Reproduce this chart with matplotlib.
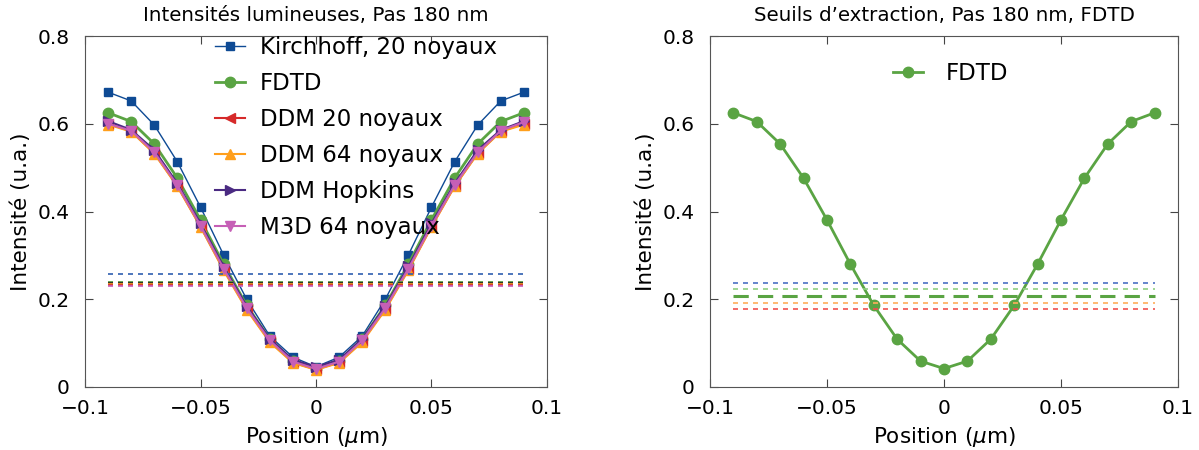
import matplotlib
matplotlib.use("Agg")
import matplotlib.pyplot as plt
import numpy as np

plt.rcParams['font.family'] = ['DejaVu Sans']
plt.rcParams['mathtext.fontset'] = 'dejavusans'

x = [-0.09, -0.08, -0.07, -0.06, -0.05, -0.04, -0.03, -0.02, -0.01, 0.0,
     0.01, 0.02, 0.03, 0.04, 0.05, 0.06, 0.07, 0.08, 0.09]

kirchhoff = [0.672, 0.652, 0.597, 0.513, 0.410, 0.301, 0.200, 0.116, 0.068, 0.046,
             0.068, 0.116, 0.200, 0.301, 0.410, 0.513, 0.597, 0.652, 0.672]
fdtd = [0.625, 0.605, 0.554, 0.476, 0.381, 0.280, 0.186, 0.109, 0.059, 0.042,
        0.059, 0.109, 0.186, 0.280, 0.381, 0.476, 0.554, 0.605, 0.625]
ddm20 = [0.600, 0.583, 0.533, 0.458, 0.366, 0.268, 0.178, 0.104, 0.056, 0.040,
         0.056, 0.104, 0.178, 0.268, 0.366, 0.458, 0.533, 0.583, 0.600]
ddm64 = [0.598, 0.582, 0.532, 0.457, 0.365, 0.266, 0.176, 0.102, 0.055, 0.039,
         0.055, 0.102, 0.176, 0.266, 0.365, 0.457, 0.532, 0.582, 0.598]
hopkins = [0.606, 0.586, 0.540, 0.464, 0.373, 0.275, 0.184, 0.110, 0.062, 0.046,
           0.062, 0.110, 0.184, 0.275, 0.373, 0.464, 0.540, 0.586, 0.606]
m3d = [0.600, 0.584, 0.535, 0.460, 0.368, 0.270, 0.180, 0.106, 0.058, 0.041,
       0.058, 0.106, 0.180, 0.270, 0.368, 0.460, 0.535, 0.584, 0.604]

labels = ["Kirchhoff, 20 noyaux", "FDTD", "DDM 20 noyaux", "DDM 64 noyaux",
          "DDM Hopkins", "M3D 64 noyaux"]
colors = ["#0e4a94", "#5aa443", "#d62a2a", "#ff9f1c", "#4a2a82", "#c65fb6"]
markers = ["s", "o", "<", "^", ">", "v"]
lws = [1.0, 2.0, 1.5, 1.5, 1.5, 1.5]
msizes = [6, 7.5, 6.5, 6.5, 6.5, 6.5]

# thresholds (left panel)
seuils_left = [0.258, 0.240, 0.236, 0.234, 0.232, 0.230]
seuils_left_colors = ["#2f5fb0", "#4f9a3a", "#222222", "#ff9f1c", "#d62a2a", "#c65fb6"]

# thresholds (right panel)
seuils_right = [0.238, 0.223, 0.207, 0.192, 0.178]
seuils_right_colors = ["#4a6fc4", "#8fcf80", "#5aa443", "#ffad5a", "#f05050"]
seuils_right_lw = [1.2, 1.2, 2.2, 1.2, 1.2]

fig = plt.figure(figsize=(11.99, 4.5), dpi=100)
ax1 = fig.add_axes([0.0709, 0.14, 0.3853, 0.78])
ax2 = fig.add_axes([0.5921, 0.14, 0.3904, 0.78])

series = [kirchhoff, fdtd, ddm20, ddm64, hopkins, m3d]
for s, lab, c, m, lw, ms in zip(series, labels, colors, markers, lws, msizes):
    ax1.plot(x, s, color=c, marker=m, lw=lw, ms=ms, label=lab)

for y, c in zip(seuils_left, seuils_left_colors):
    ax1.plot([x[0], x[-1]], [y, y], color=c, lw=1.2, ls=(0, (3, 3)))

ax2.plot(x, fdtd, color=colors[1], marker="o", lw=2.0, ms=7.5, label="FDTD")
for y, c, lw in zip(seuils_right, seuils_right_colors, seuils_right_lw):
    dash = (0, (5, 3)) if lw > 2 else (0, (3, 3))
    ax2.plot([x[0], x[-1]], [y, y], color=c, lw=lw, ls=dash)

ticks_y = [0, 0.2, 0.4, 0.6, 0.8]
ticklab_y = ["0", "0.2", "0.4", "0.6", "0.8"]
ticks_x = [-0.1, -0.05, 0, 0.05, 0.1]
ticklab_x = ["\u22120.1", "\u22120.05", "0", "0.05", "0.1"]

for ax, title in [(ax1, "Intensités lumineuses, Pas 180 nm"),
                  (ax2, "Seuils d\u2019extraction, Pas 180 nm, FDTD")]:
    ax.set_xlim(-0.1, 0.1)
    ax.set_ylim(0, 0.8)
    ax.set_xticks(ticks_x)
    ax.set_xticklabels(ticklab_x)
    ax.set_yticks(ticks_y)
    ax.set_yticklabels(ticklab_y)
    ax.tick_params(direction="in", top=True, right=True, labelsize=14.5,
                   length=6, color="#444444")
    ax.tick_params(axis="x", pad=9)
    ax.tick_params(axis="y", pad=11)
    for sp in ax.spines.values():
        sp.set_color("#555555")
    ax.set_xlabel(r"Position ($\mu$m)", fontsize=15.5, labelpad=5)
    ax.set_ylabel("Intensité (u.a.)", fontsize=15.5, labelpad=5)
    ax.set_title(title, fontsize=14.3, pad=11)

ax1.legend(loc="upper left", bbox_to_anchor=(0.281, 1.0), frameon=False,
           fontsize=16.5, handlelength=1.3, handletextpad=0.65,
           labelspacing=0.57, borderpad=0, borderaxespad=0)
ax2.legend(loc="upper left", bbox_to_anchor=(0.391, 0.925), frameon=False,
           fontsize=16.5, handlelength=1.3, handletextpad=1.0,
           borderpad=0, borderaxespad=0)

fig.savefig("out.png", dpi=100)
